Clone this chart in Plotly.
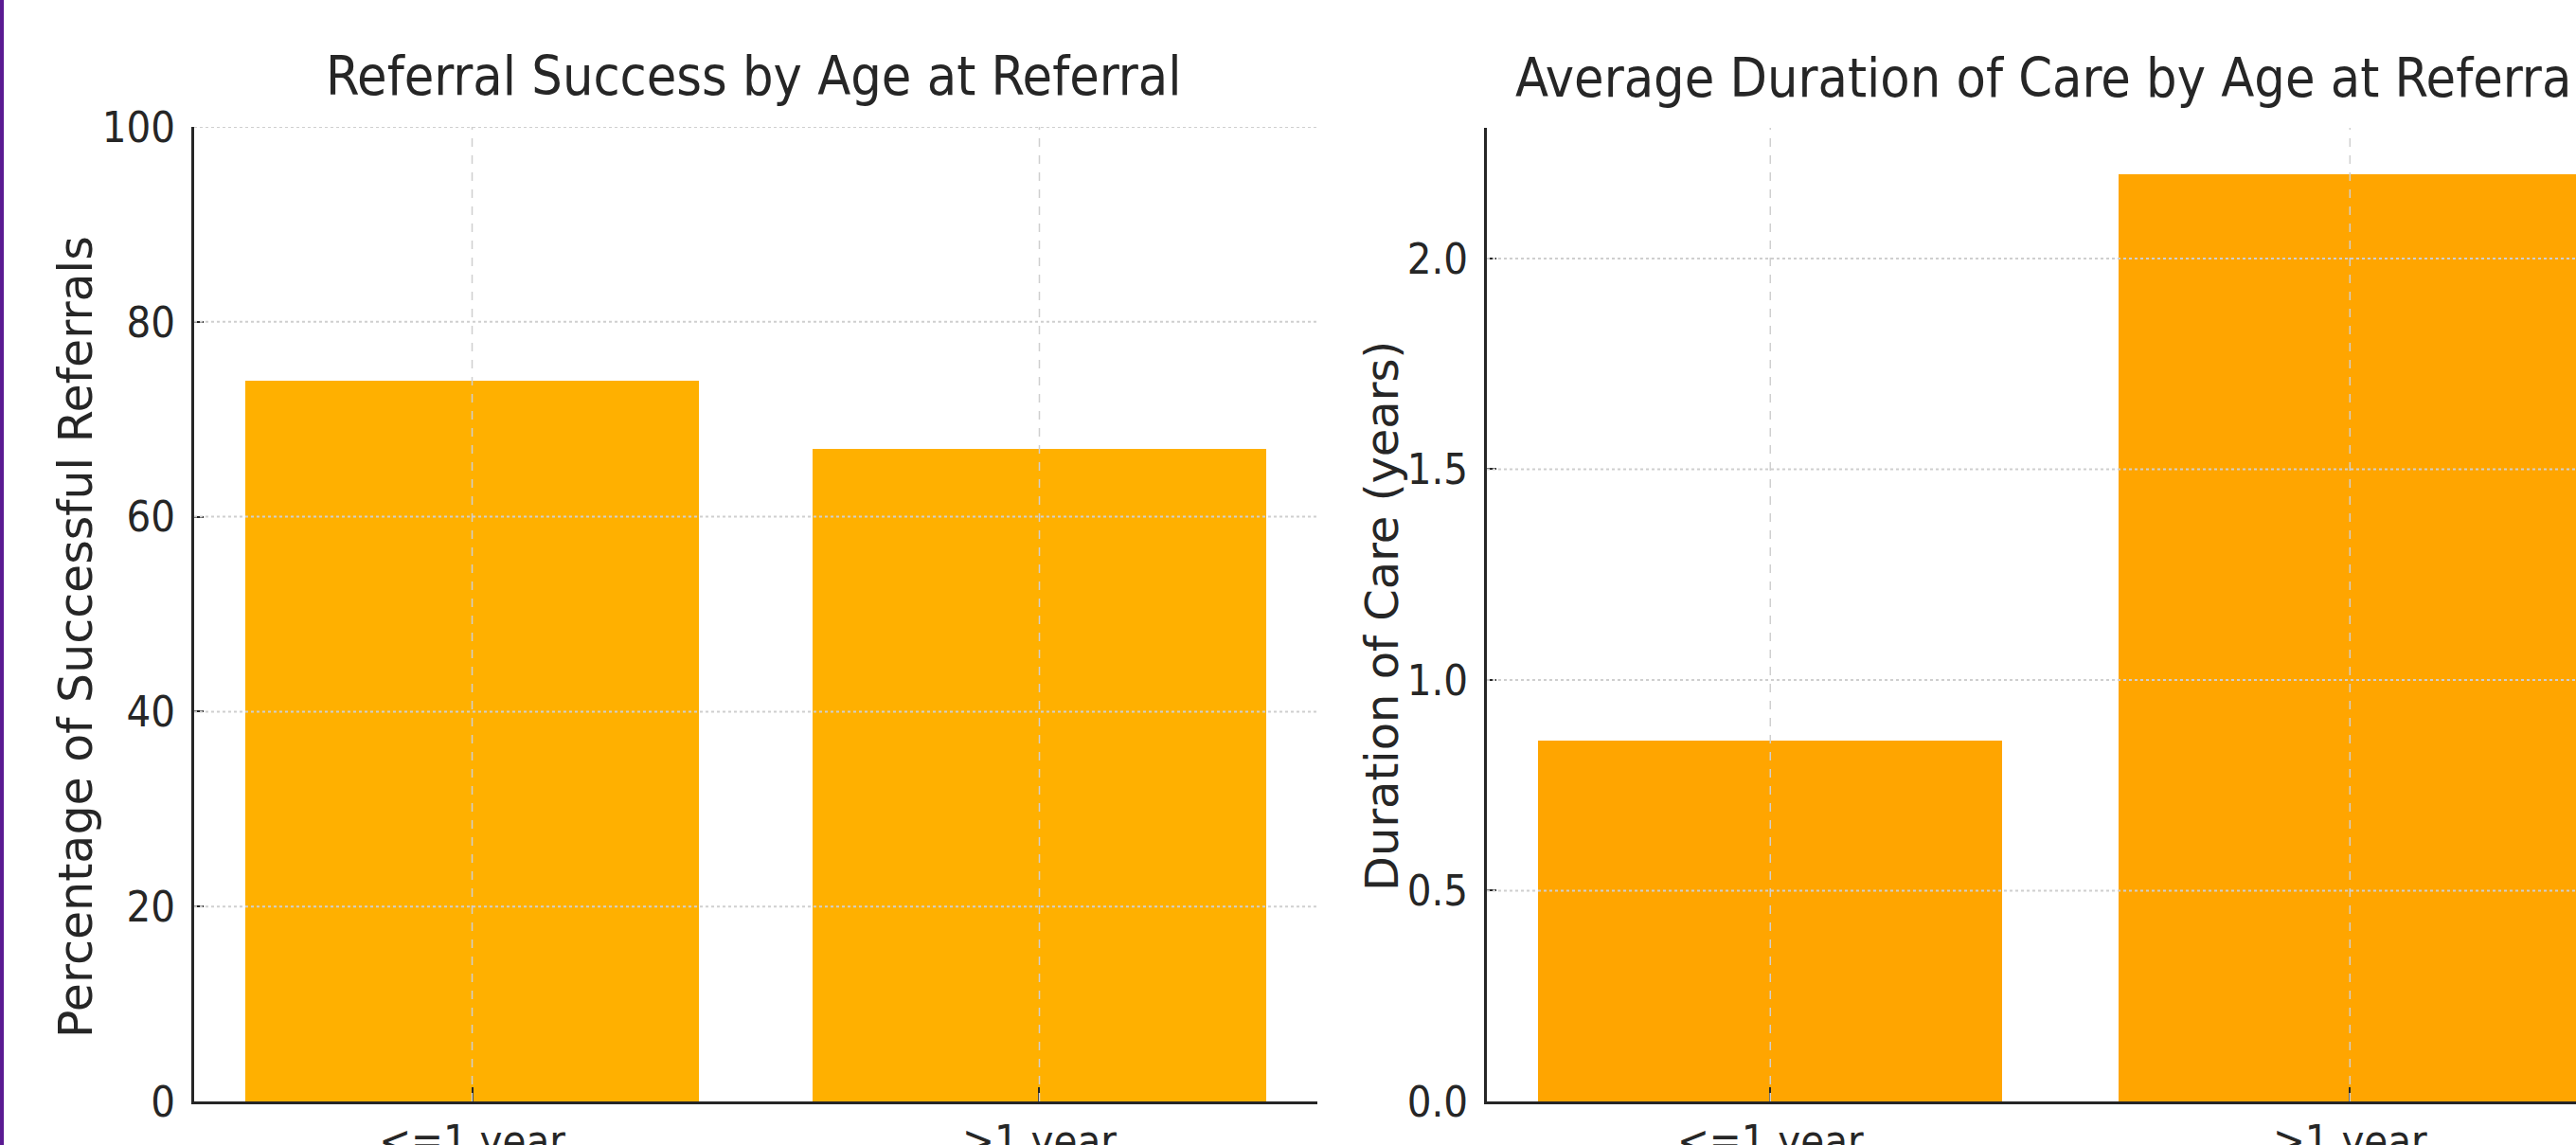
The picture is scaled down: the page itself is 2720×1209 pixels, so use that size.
import plotly.graph_objects as go

# ---- data ----
categories = ["<=1 year", ">1 year"]
success_pct = [74, 67]
duration_years = [0.856, 2.2]

left_title = "Referral Success by Age at Referral"
right_title = "Average Duration of Care by Age at Referral"
left_ylabel = "Percentage of Successful Referrals"
right_ylabel = "Duration of Care (years)"
left_yticks = [0, 20, 40, 60, 80, 100]
right_yticks = [0.0, 0.5, 1.0, 1.5, 2.0]

W, H = 2720, 1209
COND = "DejaVu Sans Condensed, DejaVu Sans, sans-serif"
REG = "DejaVu Sans, sans-serif"
DARK = "#262626"
GRID = "#cfcfcf"

def px(xp):
    return xp / W

def py(yp):
    return (H - yp) / H

fig = go.Figure()
fig.add_trace(go.Bar(x=[0, 1], y=success_pct, width=0.8, marker=dict(color="#FFB000", line=dict(width=0)),
                     xaxis="x", yaxis="y", showlegend=False, hoverinfo="skip"))
fig.add_trace(go.Bar(x=[0, 1], y=duration_years, width=0.8, marker=dict(color="#FFA500", line=dict(width=0)),
                     xaxis="x2", yaxis="y2", showlegend=False, hoverinfo="skip"))

common_x = dict(tickmode="array", tickvals=[0, 1], ticktext=categories, showgrid=False, zeroline=False,
                showline=True, linecolor=DARK, linewidth=3, ticks="inside", ticklen=15, tickwidth=2,
                tickcolor=DARK, tickfont=dict(family=COND, size=45, color=DARK), automargin=False,
                layer="above traces")
common_y = dict(showgrid=False, zeroline=False, showline=True, linecolor=DARK, linewidth=3,
                ticks="inside", ticklen=10, tickwidth=2, tickcolor=DARK,
                tickfont=dict(family=COND, size=45, color=DARK), automargin=False,
                layer="above traces", ticklabelstandoff=8)

fig.update_layout(
    width=W, height=H,
    margin=dict(l=0, r=0, t=0, b=0),
    paper_bgcolor="white", plot_bgcolor="white",
    bargap=0,
    xaxis=dict(domain=[px(205), px(1391)], range=[-0.49, 1.49], anchor="y", **common_x),
    yaxis=dict(domain=[py(1163), py(134)], range=[0, 100], anchor="x", tickvals=left_yticks, **common_y),
    xaxis2=dict(domain=[px(1570), 1.0], range=[-0.489, 1.39], anchor="y2", **common_x),
    yaxis2=dict(domain=[py(1163), py(135)], range=[0, 2.31], anchor="x2", tickvals=right_yticks,
                tickformat=".1f", **common_y),
)

shapes = []
# gridlines drawn above bars (as in the reference)
for v in left_yticks[1:]:
    shapes.append(dict(type="line", xref="x domain", yref="y", x0=0, x1=1, y0=v, y1=v,
                       line=dict(color=GRID, width=2, dash="dot"), layer="above"))
for v in right_yticks[1:]:
    shapes.append(dict(type="line", xref="x2 domain", yref="y2", x0=0, x1=1, y0=v, y1=v,
                       line=dict(color=GRID, width=2, dash="dot"), layer="above"))
for c in [0, 1]:
    shapes.append(dict(type="line", xref="x", yref="y domain", x0=c, x1=c, y0=0, y1=1,
                       line=dict(color=GRID, width=1.5, dash="dash"), layer="above"))
    shapes.append(dict(type="line", xref="x2", yref="y2 domain", x0=c, x1=c, y0=0, y1=1,
                       line=dict(color=GRID, width=1.5, dash="dash"), layer="above"))
# purple frame edge on the left
shapes.append(dict(type="rect", xref="paper", yref="paper", x0=0, x1=px(4), y0=0, y1=1,
                   fillcolor="#5a1a92", line=dict(width=0), layer="above"))
fig.update_layout(shapes=shapes)

annotations = [
    dict(text=left_title, xref="paper", yref="paper", x=px(796), y=py(80), xanchor="center", yanchor="middle",
         showarrow=False, font=dict(family=COND, size=57, color=DARK)),
    dict(text=right_title, xref="paper", yref="paper", x=px(2165), y=py(82), xanchor="center", yanchor="middle",
         showarrow=False, font=dict(family=COND, size=57, color=DARK)),
    dict(text=left_ylabel, xref="paper", yref="paper", x=px(80), y=py(673), xanchor="center", yanchor="middle",
         textangle=-90, showarrow=False, font=dict(family=REG, size=49, color=DARK)),
    dict(text=right_ylabel, xref="paper", yref="paper", x=px(1459), y=py(651), xanchor="center", yanchor="middle",
         textangle=-90, showarrow=False, font=dict(family=REG, size=48, color=DARK)),
]
fig.update_layout(annotations=annotations)

fig.write_html("out.html", config={"displayModeBar": False},
               post_script="document.body.style.margin='0';document.body.style.padding='0';")
